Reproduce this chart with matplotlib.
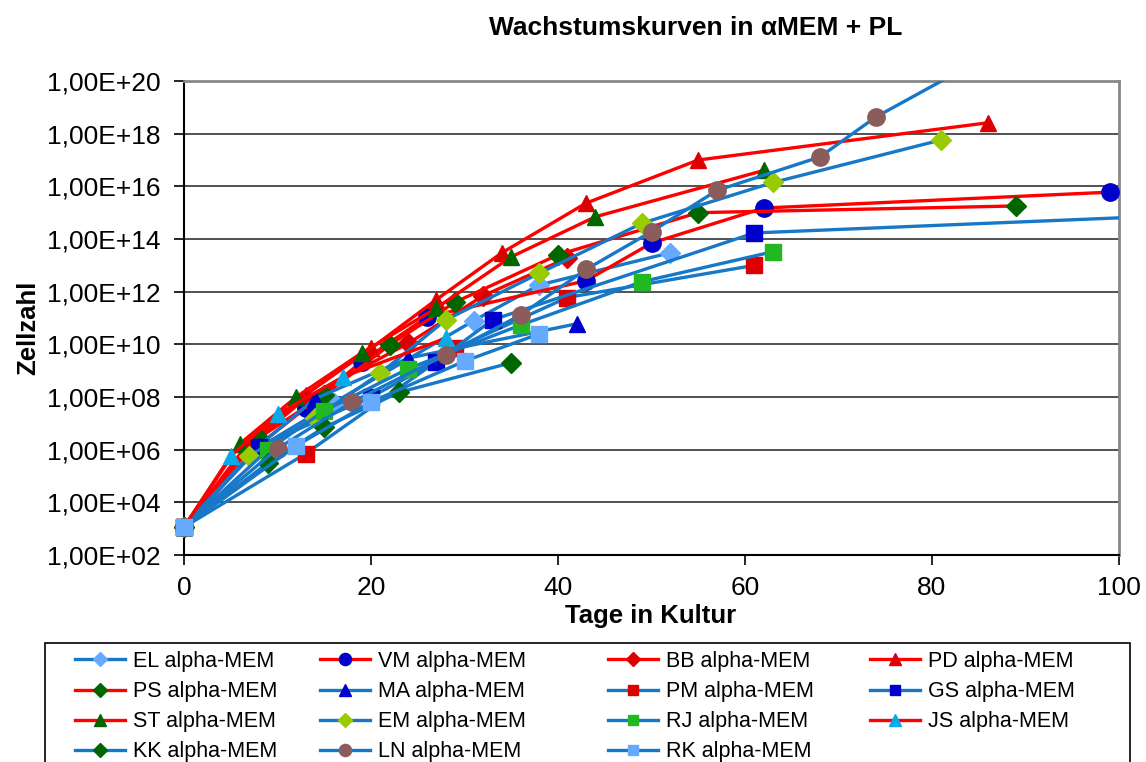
import matplotlib
matplotlib.use('Agg')
import matplotlib.pyplot as plt
from matplotlib.lines import Line2D
from matplotlib.patches import Rectangle
import numpy as np

plt.rcParams['font.family'] = ['Liberation Sans', 'DejaVu Sans']

# cell counts (day 0 = seeding)
start = 1.15e3

el_days = [0, 8, 16, 31, 38, 52]
el_cells = [start, 1.2e6, 6e7, 8e10, 1.8e12, 3e13]
vm_days = [0, 8, 13, 19, 26, 43, 50, 62, 99]
vm_cells = [start, 1.5e6, 3.8e7, 2.2e9, 1.1e11, 2.6e12, 7e13, 1.5e15, 6e15]
bb_days = [0, 7, 13, 24, 32, 41]
bb_cells = [start, 1.5e6, 9e7, 1.1e10, 7e11, 1.9e13]
pd_days = [0, 7, 13, 20, 27, 34, 43, 55, 86]
pd_cells = [start, 2e6, 1.2e8, 7e9, 5e11, 3e13, 2.3e15, 1e17, 2.6e18]
ps_days = [0, 8, 15, 22, 29, 40, 55, 89]
ps_cells = [start, 2.8e6, 1.2e8, 9.5e9, 4e11, 2.5e13, 1e15, 1.8e15]
ma_days = [0, 8, 14, 24, 42]
ma_cells = [start, 1.4e6, 8.5e7, 3e9, 6e10]
pm_days = [0, 13, 29, 41, 61]
pm_cells = [start, 7e5, 7e9, 6e11, 1e13]
gs_days = [0, 8, 20, 27, 33, 61, 120]
gs_cells = [start, 1.3e6, 1e8, 2.2e9, 8.5e10, 1.7e14, 1.25e15]
st_days = [0, 6, 12, 19, 27, 35, 44, 62]
st_cells = [start, 1.7e6, 1e8, 4.7e9, 2.4e11, 2.1e13, 7e14, 4e16]
em_days = [0, 7, 14, 21, 28, 38, 49, 63, 81]
em_cells = [start, 6e5, 1.6e7, 8e8, 8.5e10, 5e12, 4e14, 1.4e16, 5.8e17]
rj_days = [0, 9, 15, 24, 36, 49, 63]
rj_cells = [start, 1e6, 3e7, 1.2e9, 5.4e10, 2.4e12, 3.3e13]
js_days = [0, 5, 10, 17, 28]
js_cells = [start, 5.8e5, 2.2e7, 5.8e8, 1.7e10]
kk_days = [0, 9, 15, 23, 35]
kk_cells = [start, 3.2e5, 7e6, 1.5e8, 2e9]
ln_days = [0, 10, 18, 28, 36, 43, 50, 57, 68, 74, 88]
ln_cells = [start, 1.1e6, 6.5e7, 4e9, 1.3e11, 7e12, 1.9e14, 7e15, 1.3e17, 4.3e18, 2.3e21]
rk_days = [0, 12, 20, 30, 38]
rk_cells = [start, 1.4e6, 6.5e7, 2.3e9, 2.5e10]

labels = ['EL alpha-MEM', 'VM alpha-MEM', 'BB alpha-MEM', 'PD alpha-MEM',
          'PS alpha-MEM', 'MA alpha-MEM', 'PM alpha-MEM', 'GS alpha-MEM',
          'ST alpha-MEM', 'EM alpha-MEM', 'RJ alpha-MEM', 'JS alpha-MEM',
          'KK alpha-MEM', 'LN alpha-MEM', 'RK alpha-MEM']
days = [el_days, vm_days, bb_days, pd_days, ps_days, ma_days, pm_days, gs_days,
        st_days, em_days, rj_days, js_days, kk_days, ln_days, rk_days]
cells = [el_cells, vm_cells, bb_cells, pd_cells, ps_cells, ma_cells, pm_cells, gs_cells,
         st_cells, em_cells, rj_cells, js_cells, kk_cells, ln_cells, rk_cells]

blue = '#1778C8'
red = '#FF0000'
line_colors = [blue, red, red, red, red, blue, blue, blue,
               red, blue, blue, red, blue, blue, blue]
marker_colors = ['#66AAFF', '#0000CC', '#DD0000', '#DD0000', '#006600', '#0000CC',
                 '#DD0000', '#0000CC', '#006600', '#99CC00', '#22B822', '#0AAAE8',
                 '#006600', '#8B5C5C', '#66AAFF']
markers = ['D', 'o', 'D', '^', 'D', '^', 's', 's', '^', 'D', 's', '^', 'D', 'o', 's']
msizes = {'D': 10, 'o': 12.5, '^': 12, 's': 11}

fig = plt.figure(figsize=(11.46, 7.62), dpi=100)
ax = fig.add_axes([184/1146, 1-555/762, (1119-184)/1146, (555-81)/762])

xmax, ymin, ymax = 100, 1e2, 1e20
for i in range(len(labels)):
    x = np.array(days[i], dtype=float)
    y = np.array(cells[i], dtype=float)
    ax.plot(x, y, color=line_colors[i], lw=2.4, zorder=3 + i*0.01)
    ok = (x <= xmax) & (y <= ymax)
    ax.plot(x[ok], y[ok], ls='none', marker=markers[i], ms=msizes[markers[i]],
            mfc=marker_colors[i], mec=marker_colors[i], clip_on=False, zorder=3 + i*0.01)

ax.set_yscale('log')
ax.set_xlim(0, xmax)
ax.set_ylim(ymin, ymax)
ax.set_yticks([10.0**k for k in range(2, 21, 2)])
ax.set_yticklabels(['1,00E+%02d' % k for k in range(2, 21, 2)])
ax.yaxis.set_minor_locator(matplotlib.ticker.NullLocator())
ax.set_xticks([0, 20, 40, 60, 80, 100])
ax.tick_params(axis='both', labelsize=19, length=7, width=1.2, direction='out')
ax.tick_params(axis='y', pad=10)
ax.tick_params(axis='x', pad=8)
ax.grid(axis='y', color='#333333', lw=1.2)
ax.set_axisbelow(True)
for s in ['top', 'right']:
    ax.spines[s].set_color('#888888')
    ax.spines[s].set_linewidth(2)
for s in ['left', 'bottom']:
    ax.spines[s].set_color('black')
    ax.spines[s].set_linewidth(1.5)

fig.text(696/1146, 1-28/762, 'Wachstumskurven in αMEM + PL', ha='center', va='center',
         fontsize=19, fontweight='bold')
fig.text(28/1146, 1-328/762, 'Zellzahl', ha='center', va='center', rotation=90,
         fontsize=18.5, fontweight='bold')
fig.text(651/1146, 1-616/762, 'Tage in Kultur', ha='center', va='center',
         fontsize=18.5, fontweight='bold')

# legend: framed box running off the bottom, four columns
fig.patches.append(Rectangle((45/1146, -0.05), (1130-45)/1146, 1-643/762+0.05,
                             transform=fig.transFigure, fill=False, ec='black', lw=1.2))
col_x = [75, 320, 608, 870]
for c in range(4):
    idx = list(range(c, len(labels), 4))
    hs = [Line2D([], [], color=line_colors[i], lw=2.4, marker=markers[i],
                 ms=msizes[markers[i]]*0.7, mfc=marker_colors[i], mec=marker_colors[i])
          for i in idx]
    fig.legend(hs, [labels[i] for i in idx], loc='upper left',
               bbox_to_anchor=(col_x[c]/1146, 1-651/762), frameon=False,
               fontsize=15.5, borderpad=0, borderaxespad=0, handlelength=2.3,
               handletextpad=0.4, labelspacing=0.42)

fig.savefig('out.png', dpi=100)
